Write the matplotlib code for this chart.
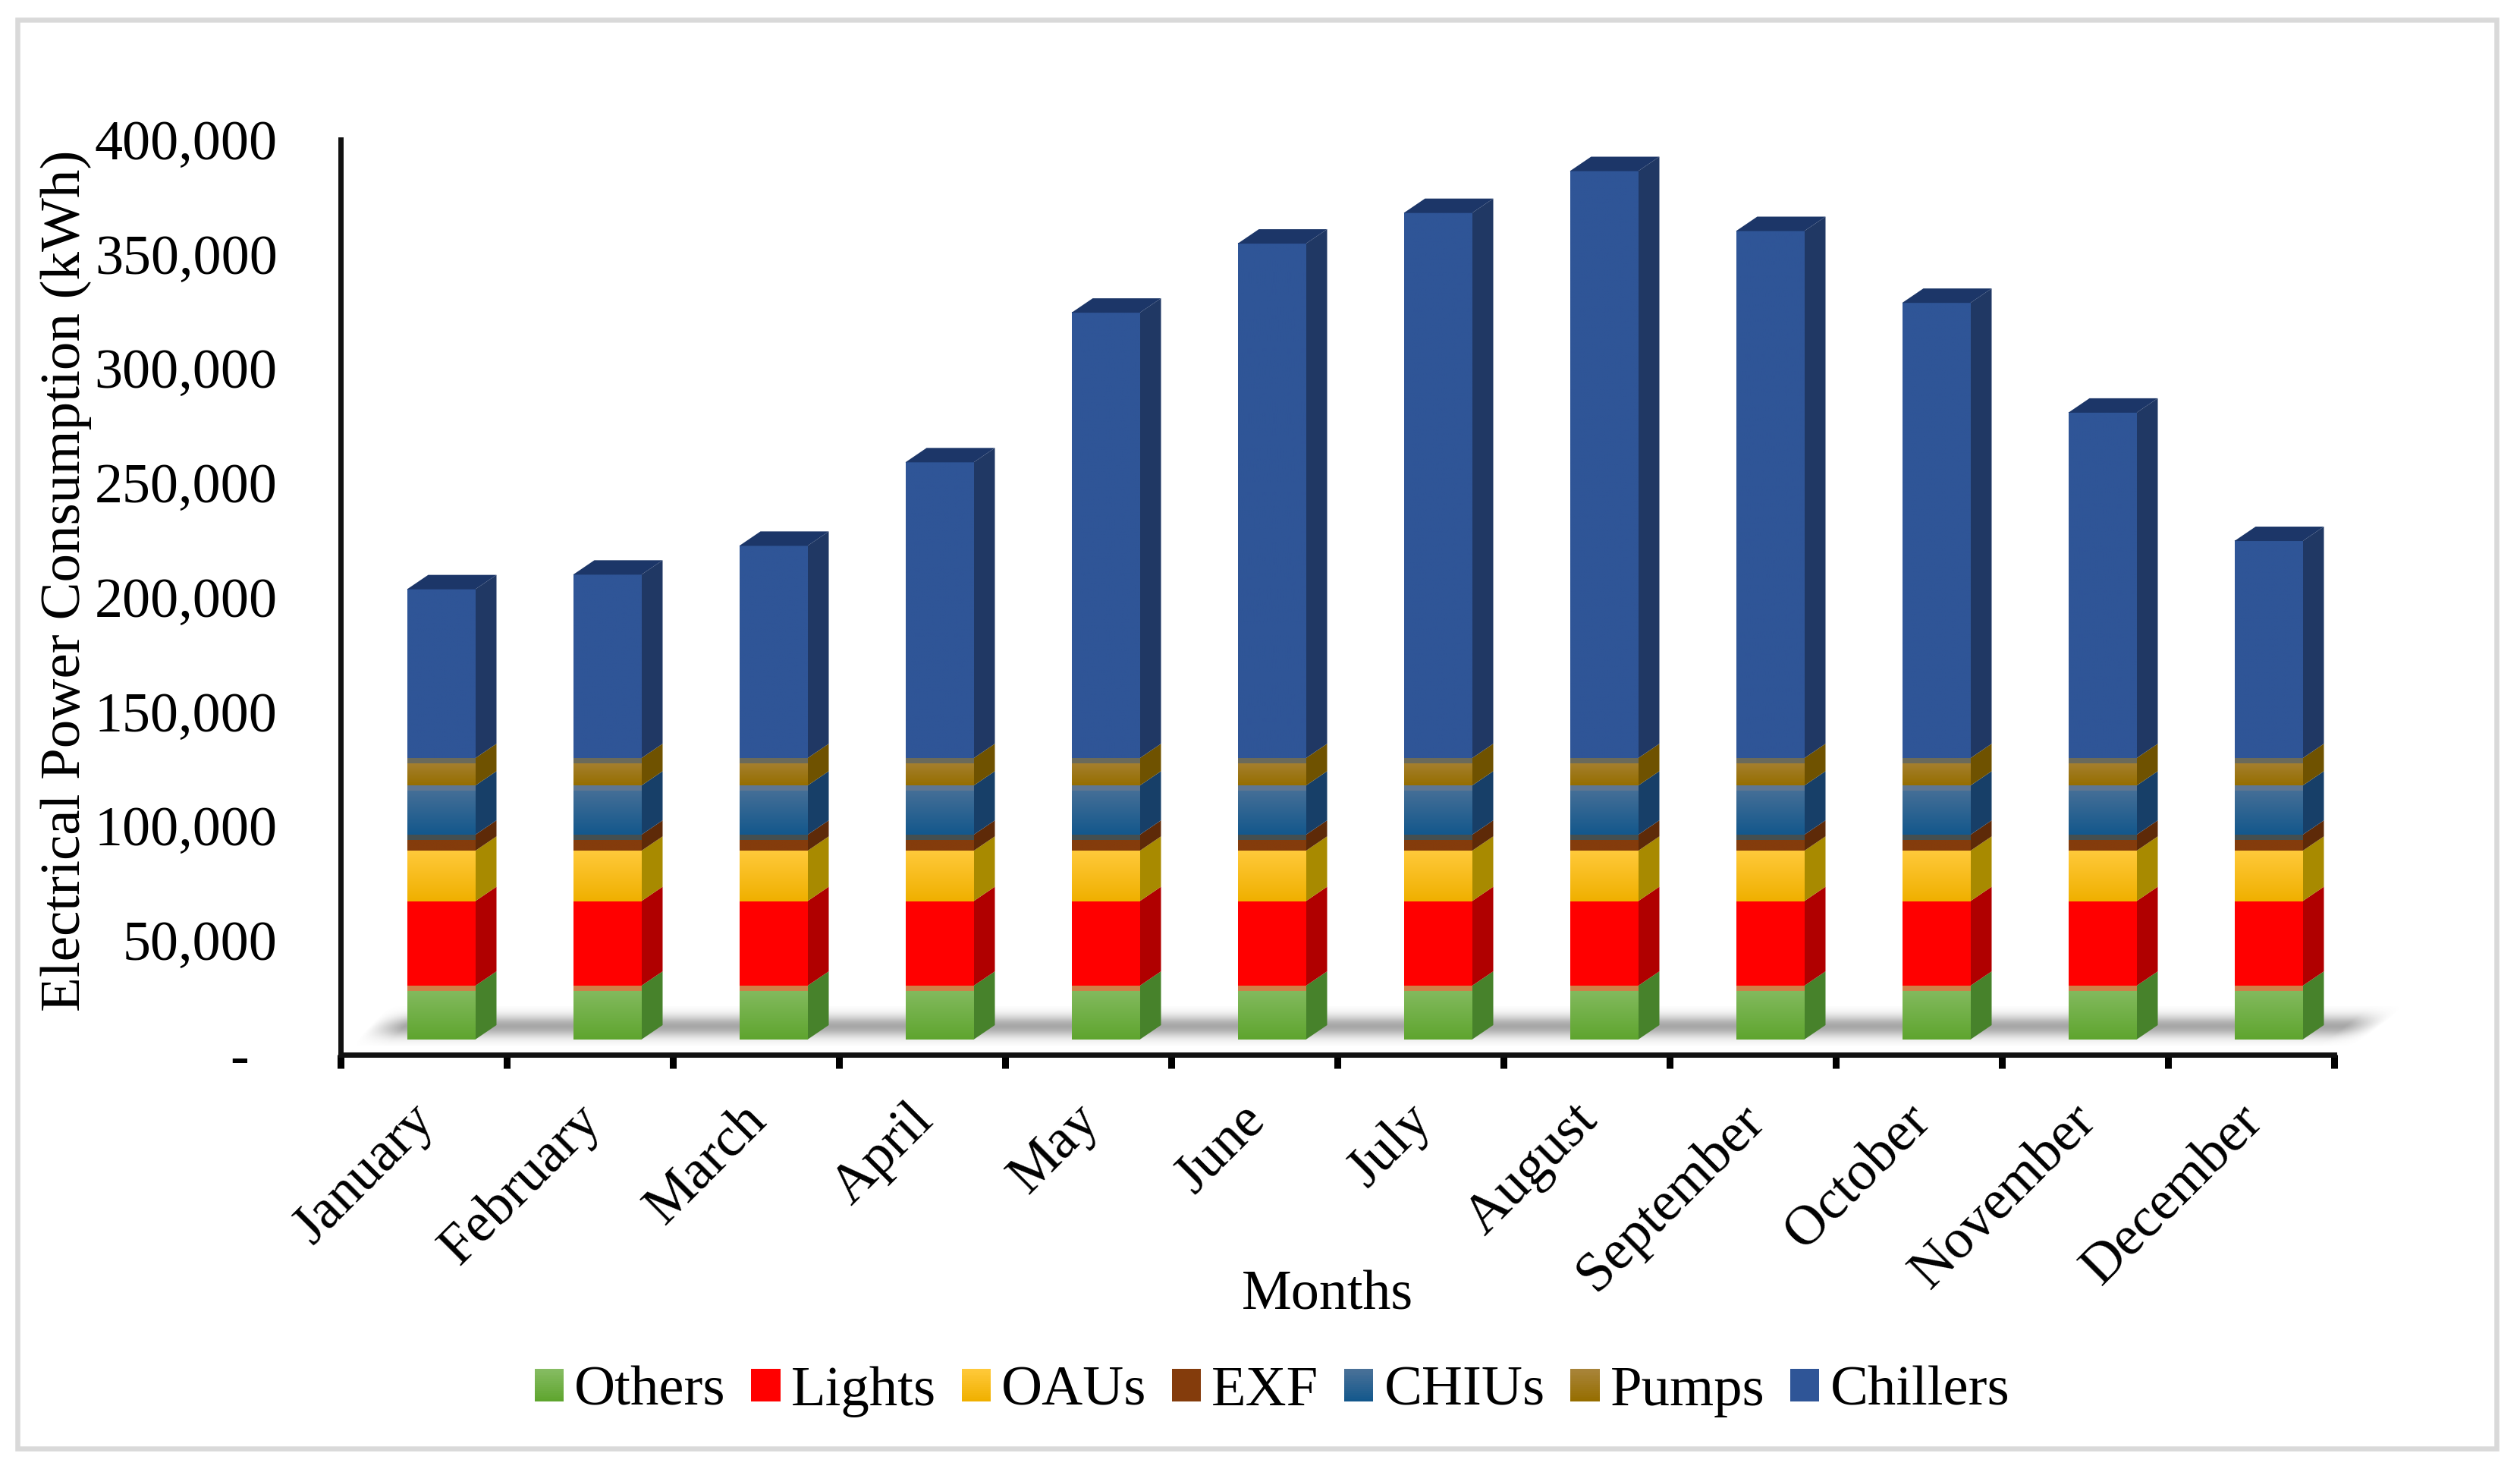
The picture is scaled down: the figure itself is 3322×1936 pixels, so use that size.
import numpy as np
import matplotlib
matplotlib.use("Agg")
import matplotlib.pyplot as plt
from matplotlib.colors import to_rgb
from matplotlib.legend_handler import HandlerBase
from matplotlib.patches import Patch, Polygon, Rectangle
from matplotlib.transforms import Affine2D

plt.rcParams["font.family"] = ["Liberation Serif", "DejaVu Serif"]

months = ["January", "February", "March", "April", "May", "June", "July",
          "August", "September", "October", "November", "December"]
series_names = ["Others", "Lights", "OAUs", "EXF", "CHIUs", "Pumps", "Chillers"]

others = [23500] * 12
lights = [37000] * 12
oaus = [22000] * 12
exf = [7000] * 12
chius = [21500] * 12
pumps = [12000] * 12
chillers = [73800, 80200, 92800, 129300, 194700, 224900,
            238300, 256600, 230400, 199000, 151000, 94900]

y_ticks = [0, 50000, 100000, 150000, 200000, 250000, 300000, 350000, 400000]
y_labels = ["-  ", "50,000", "100,000", "150,000", "200,000", "250,000",
            "300,000", "350,000", "400,000"]

top_colors = ["#86bc62", "#ff0000", "#ffc93a", "#843c0c", "#4a7198", "#a8843a", "#2f5597"]
bottom_colors = ["#5fa52f", "#ff0000", "#f0b000", "#843c0c", "#14588c", "#966e00", "#2f5597"]
side_colors = ["#47822b", "#b00000", "#a88a00", "#5e2a08", "#173f68", "#6f5200", "#203864"]
# thin shaded strip along the top of each segment
strip_colors = ["#cf8048", None, None, "#444f50", "#5e7690", "#6a6a5a", None]

W, H, DPI = 3322, 1936, 100
FS = 53.3

fig = plt.figure(figsize=(W / DPI, H / DPI), dpi=DPI)
ax = fig.add_axes([449 / W, 1 - 1390 / H, (3077 - 449) / W, (1390 - 184) / H])
ax.set_xlim(0, 12)
ax.set_ylim(0, 400000)

# outer border of the picture
fig.add_artist(Rectangle((23 / W, 1 - 1909 / H), (3291 - 23) / W, (1909 - 25.5) / H,
                         transform=fig.transFigure, fill=False, ec="#d9d9d9", lw=4.7))

# the front faces sit up and right of the axis corner, like a 3-D column chart
front = ax.transData + Affine2D().translate(23, 20)
bar_w = 90 / 219
dx = 28 / 219
dy = 19 / (1206 / 400000)
xs = np.arange(12) + 0.5

# shadow on the floor, a soft parallelogram leaning right
py, px = np.mgrid[1326:1378:1.0, 460:3170:2.0]
lean = (1370 - py) / 33
left_edge = 470 + lean * 31
right_edge = 3112 + lean * 43
alpha = np.exp(-((py - 1352) / 14) ** 2) * np.clip((px - left_edge) / 45, 0, 1) * np.clip((right_edge - px) / 45, 0, 1)
shadow = np.zeros(py.shape + (4,))
shadow[..., :3] = 0.45
shadow[..., 3] = alpha * 0.62
ax.imshow(shadow, extent=[(460 - 449) / 2628, (3170 - 449) / 2628, (1390 - 1378) / 1206, (1390 - 1326) / 1206],
          transform=ax.transAxes, aspect="auto", zorder=1, interpolation="bilinear", clip_on=False)

series = [others, lights, oaus, exf, chius, pumps, chillers]
base = np.zeros(12)
for k, vals in enumerate(series):
    vals = np.array(vals, dtype=float)
    tops = base + vals
    ax.bar(xs, vals, bar_w, bottom=base, color=top_colors[k], transform=front, zorder=3, lw=0, clip_on=False)
    grad = np.linspace(to_rgb(top_colors[k]), to_rgb(bottom_colors[k]), 32)[:, None, :]
    for i, x in enumerate(xs):
        ax.imshow(grad, extent=[x - bar_w / 2, x + bar_w / 2, base[i], tops[i]], transform=front,
                  aspect="auto", zorder=3.1, interpolation="bilinear", clip_on=False)
        x1 = x + bar_w / 2
        ax.add_patch(Polygon([(x1, base[i]), (x1 + dx, base[i] + dy), (x1 + dx, tops[i] + dy), (x1, tops[i])],
                             closed=True, fc=side_colors[k], ec="none", transform=front, zorder=2 + k * 0.1,
                             clip_on=False))
        if strip_colors[k]:
            ax.add_patch(Rectangle((x - bar_w / 2, tops[i] - 2300), bar_w, 2300, fc=strip_colors[k], ec="none",
                                   transform=front, zorder=3.2, clip_on=False))
        if k == 6:
            x0 = x - bar_w / 2
            ax.add_patch(Polygon([(x0, tops[i]), (x1, tops[i]), (x1 + dx, tops[i] + dy), (x0 + dx, tops[i] + dy)],
                                 closed=True, fc="#1c3668", ec="none", transform=front, zorder=3.3, clip_on=False))
    base = tops

ax.set_xlim(0, 12)
ax.set_ylim(0, 400000)
ax.patch.set_visible(False)

for s in ["top", "right"]:
    ax.spines[s].set_visible(False)
ax.spines["left"].set_linewidth(5)
ax.spines["bottom"].set_linewidth(5)
ax.spines["left"].set_color("#111111")
ax.spines["bottom"].set_color("#111111")

ax.set_yticks(y_ticks)
ax.set_yticklabels(y_labels, fontsize=FS)
ax.tick_params(axis="y", length=0, pad=60)

ax.set_xticks(np.arange(13))
ax.set_xticklabels([])
ax.tick_params(axis="x", length=13, width=6.5, color="black")
ax.set_xticks(xs - 0.09, minor=True)
ax.set_xticklabels(months, minor=True, fontsize=FS, rotation=45, ha="right", va="top", rotation_mode="anchor")
ax.tick_params(axis="x", which="minor", length=0, pad=38)

fig.text(87 / W, 1 - 765 / H, "Electrical Power Consumption (kWh)", rotation=90, fontsize=54,
         ha="center", va="center")
fig.text(1750 / W, 1 - 1708 / H, "Months", fontsize=FS, ha="center", va="center")


class GradientHandler(HandlerBase):
    # legend keys are stacks of thin strips so they fade like the bars
    def create_artists(self, legend, orig_handle, xdescent, ydescent, width, height, fontsize, trans):
        k = series_names.index(orig_handle.get_label())
        n = 16
        cols = np.linspace(to_rgb(bottom_colors[k]), to_rgb(top_colors[k]), n)
        return [Rectangle((-xdescent, -ydescent + height * j / n), width, height / n * 1.05,
                          fc=cols[j], ec="none", transform=trans) for j in range(n)]


handles = [Patch(label=name) for name in series_names]
fig.legend(handles=handles, loc="center", bbox_to_anchor=(1677 / W, 1 - 1834 / H), ncol=7, frameon=False,
           fontsize=53.8, handlelength=0.51, handleheight=0.51, handletextpad=0.19, columnspacing=0.45,
           borderpad=0, handler_map={Patch: GradientHandler()})

fig.savefig("out.png", dpi=DPI)
